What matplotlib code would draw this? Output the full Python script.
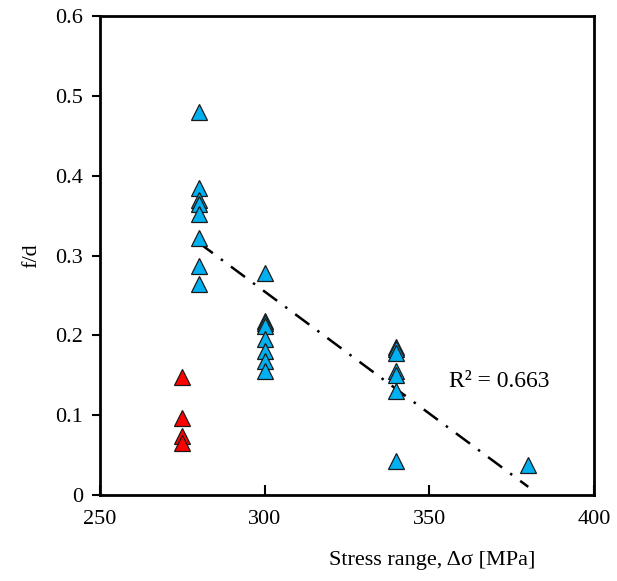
import matplotlib
matplotlib.use("Agg")
import matplotlib.pyplot as plt
import numpy as np

plt.rcParams['font.family'] = ['Liberation Serif', 'DejaVu Serif']

# Blue series (stress range [MPa], f/d)
blueX = [280, 280, 280, 280, 280, 280, 280, 280,
         300, 300, 300, 300, 300, 300, 300, 300,
         340, 340, 340, 340, 340, 340, 340,
         380]
blueY = [0.480, 0.385, 0.370, 0.365, 0.352, 0.322, 0.287, 0.265,
         0.278, 0.218, 0.215, 0.212, 0.195, 0.180, 0.168, 0.155,
         0.185, 0.183, 0.178, 0.155, 0.150, 0.130, 0.042,
         0.037]

# Red series
redX = [275, 275, 275, 275]
redY = [0.148, 0.097, 0.074, 0.065]

r2Text = "R² = 0.663"

fig = plt.figure(figsize=(6.17, 5.81), dpi=100)
ax = fig.add_axes([0.162, 0.148, 0.801, 0.824])

# Linear trendline over blue data
slope, intercept = np.polyfit(blueX, blueY, 1)
trendX = np.array([min(blueX), max(blueX)])
ax.plot(trendX, slope * trendX + intercept, color='black', linewidth=1.8,
        linestyle=(0, (7, 4, 1, 4)), zorder=2)

ax.plot(blueX, blueY, linestyle='none', marker='^', markersize=11,
        markerfacecolor='#00B0F0', markeredgecolor='#1a1a1a', markeredgewidth=0.9, zorder=3)
ax.plot(redX, redY, linestyle='none', marker='^', markersize=11,
        markerfacecolor='#FF0000', markeredgecolor='#1a1a1a', markeredgewidth=0.9, zorder=3)

ax.text(356, 0.142, r2Text, fontsize=17, ha='left', va='center')

ax.set_xlim(250, 400)
ax.set_ylim(0, 0.6)
ax.set_xticks([250, 300, 350, 400])
ax.set_yticks([0, 0.1, 0.2, 0.3, 0.4, 0.5, 0.6])
ax.set_yticklabels(['0', '0.1', '0.2', '0.3', '0.4', '0.5', '0.6'])

ax.tick_params(axis='x', direction='in', length=7, width=1.5, labelsize=16, pad=11)
ax.tick_params(axis='y', direction='out', length=6, width=1.5, labelsize=16, pad=6)
for spine in ax.spines.values():
    spine.set_linewidth(2)

fig.text(0.70, 0.035, "Stress range, Δσ [MPa]", fontsize=16, ha='center', va='center')
ax.set_ylabel("f/d", fontsize=16, labelpad=10)

fig.savefig("out.png", dpi=100)
